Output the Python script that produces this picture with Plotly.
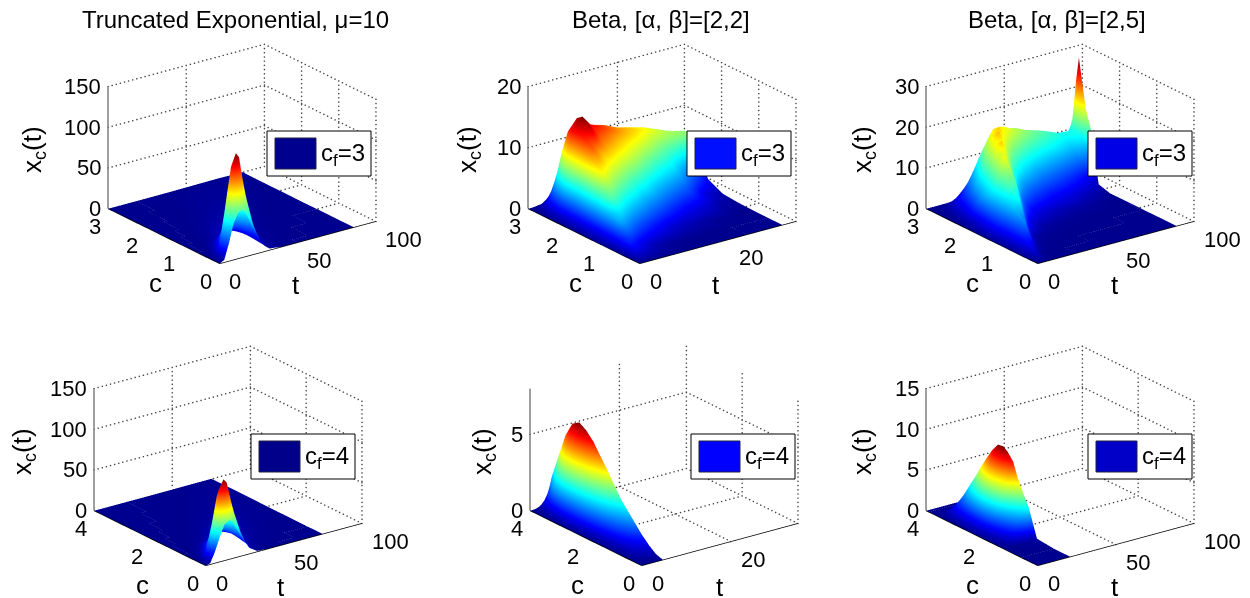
import numpy as np
import plotly.graph_objects as go

TITLES = ["Truncated Exponential, μ=10", "Beta, [α, β]=[2,2]", "Beta, [α, β]=[2,5]"]
LEGENDS = ["c<sub>f</sub>=3", "c<sub>f</sub>=3", "c<sub>f</sub>=3", "c<sub>f</sub>=4", "c<sub>f</sub>=4", "c<sub>f</sub>=4"]
PATCH_COLORS = ["#00008f", "#0010ff", "#0000e6", "#00008b", "#0000ff", "#0000c8"]

# ---- panel 1
C1 = [0, .04, .08, .12, .15, .2, .3, .4, .6, .8, 1, 1.3, 1.6, 2, 2.5, 3]
T1 = [0, 3, 6, 9, 12, 14, 16, 18, 20, 24, 28, 32, 40, 50, 60, 70, 86]
Z1 = [
 [0,3,22,45,56,58,56,48,38,22,9,2,.2,0,0,0,0],
 [0,4,25,50,68,74,70,58,46,26,10,2.2,.3,0,0,0,0],
 [0,3,28,60,87,94,89,71,55,30,10,2,.3,0,0,0,0],
 [0,2.3,32,71,106,115,109,86,67,35,12,2.3,.3,0,0,0,0],
 [0,2.5,35,78,115,125,119,94,72,38,12,2.5,.4,0,0,0,0],
 [0,2,28,70,108,118,114,95,74,40,14,3,.5,.05,0,0,0],
 [0,.8,10,35,62,73,75,66,54,31,12,3.5,.6,.1,0,0,0],
 [0,.2,3,13,30,40,44,45,39,25,11,4,.8,.1,0,0,0],
 [0,0,.3,2,7,11,15,19,20,17,10,5,1.2,.2,0,0,0],
 [0,0,.05,.4,1.5,2.5,4,6,8,10,8,5,1.8,.3,.05,0,0],
 [0,0,0,.1,.4,.7,1.2,2,3,5.5,6,5,2.3,.5,.1,0,0],
 [0,0,0,0,.1,.2,.3,.6,1,2,3.2,4,3,1,.2,.03,0],
 [0,0,0,0,0,.05,.1,.2,.35,.7,1.2,2,3,1.6,.5,.1,0],
 [0,0,0,0,0,0,.02,.04,.08,.2,.4,.7,1.5,2,1.2,.4,.03],
 [0,0,0,0,0,0,0,0,.01,.03,.08,.2,.5,1,1.2,.8,.1],
 [0,0,0,0,0,0,0,0,0,0,.01,.03,.1,.3,.5,.7,.3],
]

# ---- panel 2 (rows are t)
C2 = [0, .4, .8, 1.2, 1.6, 2, 2.3, 2.5, 2.65, 2.8, 2.9, 3]
T2 = [0, 1, 2, 3, 4, 5, 6, 8, 10, 12, 14, 17, 20, 24, 28, 32]
Z2_BY_T = [
 [0,0,0,0,0,0,0,0,0,0,0,0],
 [0,2.2,1.84,1.44,1.2,1,.9,.7,.4,.2,.1,0],
 [0,2,4.4,4.1,3.7,3.2,3,2.2,1.4,.7,.3,.1],
 [0,1.65,4.5,6.6,6.4,6,6,4.8,3.4,1.8,.8,.2],
 [0,1.28,4,7.1,8.8,8.8,8.5,8,6,3.5,1.8,.6],
 [0,1,3.6,6.5,9.6,11,11,11,9.4,6,3.2,1.2],
 [0,.8,3.2,6,9,12,12.9,13.5,12.5,9,5.5,2],
 [0,.4,2.56,5.2,8,10.6,14.2,15,14.3,11.5,8,3.5],
 [0,.2,2,4.56,7.2,10,12,13.2,13,11.5,8.5,4],
 [0,.08,1.5,3.84,6.4,9.2,11.3,12.6,12.4,11.5,8.8,4.3],
 [0,.05,1.05,3.36,5.9,8.6,10.4,11.8,12,11.2,8.8,4.4],
 [0,.02,.64,2.5,4.8,7.6,9.4,10.6,11,10.5,8.6,4.4],
 [0,.01,.4,1.8,4,6.4,8.5,9.7,10.2,10,8.5,4.3],
 [0,0,.16,1.2,3,5.4,7.1,8.4,9.2,9.2,8,4.2],
 [0,0,.06,.4,1.2,3.4,6,7.6,8.2,8,7.4,4],
 [0,0,.02,.1,.3,1.5,5,7.6,7.5,6.8,6.3,3.5],
]

# ---- panel 3 (rows are t)
C3 = [0, .3, .6, .9, 1.2, 1.5, 1.8, 2.1, 2.3, 2.45, 2.55, 2.63, 2.7, 2.8, 2.9, 3]
T3 = [0, 3, 6, 10, 15, 20, 25, 30, 35, 40, 50, 60, 70, 80, 87.5, 89]
Z3_BY_T = [
 [0,0,0,0,0,0,0,0,0,0,0,0,0,0,0,0],
 [0,3.2,4.5,4.2,5,3.5,1.2,.7,.4,.25,.2,.15,.1,.05,.02,0],
 [0,1.2,7.5,9,9.5,9.5,7,3,1.6,1.1,.8,.6,.45,.25,.08,0],
 [0,.1,1.8,11,13.5,13.8,10.5,7.3,4.8,3.4,2.7,2.1,1.5,.9,.3,0],
 [0,.02,.3,2,13,18.5,15.5,12,8.8,6.6,5.4,4.4,3.5,2.2,.9,0],
 [0,.01,.1,.7,5,13,20,17,13.5,10.5,8.8,7.4,6,4,1.8,0],
 [0,0,.05,.3,2,7,15,20.5,18.5,15.5,13.5,11.6,9.6,6.5,3,.2],
 [0,0,.02,.15,1,4,10,17,20,19,17,15,13,9.5,5,1],
 [0,0,.01,.1,.6,2.7,7.3,13.5,17.5,19,18.5,17,15.5,12.5,8,3],
 [0,0,0,.05,.4,2,5.8,11,15,17.5,18,17.5,16.8,14.5,11,6],
 [0,0,0,.02,.2,1.1,4,8,11.5,14,15.5,16,16,15,13.5,10],
 [0,0,0,.01,.1,.7,3,6.5,9.5,12,13,14,14.2,14,13.2,11],
 [0,0,0,0,.05,.4,1.8,5,8,10.5,11.5,12.3,12.8,12.8,12,11],
 [0,0,0,0,.02,.1,.8,3.2,6.5,8.8,10,10.8,11.2,11.2,10.8,10],
 [0,0,0,0,0,.02,.2,1.5,7,10,11,11.5,11.5,11,10,9.5],
 [0,0,0,0,0,0,0,.8,13,18,24.3,29.5,24.3,14,10,9],
]

# ---- panel 4
C4 = [0, .05, .1, .15, .2, .27, .4, .55, .8, 1.1, 1.4, 1.8, 2.2, 2.7, 3.3, 4]
T4 = [0, 3, 6, 9, 12, 15, 17, 19, 21, 25, 29, 33, 40, 50, 60, 75]
Z4 = [
 [0,1.5,14,30,44,48,46,38,30,16,6,1,.1,0,0,0],
 [0,1.5,16,33,50,58,55,44,34,18,6,1.1,.2,0,0,0],
 [0,1.4,18,40,63,72,68,54,42,22,7,1.4,.2,0,0,0],
 [0,1.8,22,48,77,88,84,66,51,26,9,1.8,.3,0,0,0],
 [0,1.9,24,52,84,95,90,71,55,29,10,1.9,.3,0,0,0],
 [0,1.5,18,45,75,87,84,70,55,30,11,2.4,.4,.03,0,0],
 [0,.5,6,20,42,55,58,52,43,27,11,3.5,.6,.1,0,0],
 [0,.1,1.5,6,17,27,32,35,33,24,12,5,1,.2,0,0],
 [0,0,.2,1,3.5,7,10,13,16,18,13,7,2,.4,.05,0],
 [0,0,.02,.1,.5,1,1.8,3,4.5,7.5,8,6.5,2.8,.7,.1,0],
 [0,0,0,.02,.1,.2,.4,.7,1.1,2.3,3.6,4.6,4,1.5,.4,.02],
 [0,0,0,0,.02,.05,.1,.15,.25,.6,1,1.6,2.5,1.8,.7,.08],
 [0,0,0,0,0,.02,.03,.05,.08,.2,.35,.6,1,1.5,1,.2],
 [0,0,0,0,0,0,0,.01,.02,.05,.1,.2,.4,.8,1,.4],
 [0,0,0,0,0,0,0,0,0,.01,.03,.06,.15,.35,.6,.5],
 [0,0,0,0,0,0,0,0,0,0,0,.01,.05,.1,.25,.3],
]

# ---- panel 5
C5 = [0, .25, .5, .75, 1, 1.5, 2, 2.5, 2.75, 3, 3.25, 3.5, 3.75, 4]
T5 = [0, .5, 1, 1.5, 2, 2.5, 3, 3.5, 4, 4.5, 4.8]
Z5 = [
 [0,0,0,0,0,0,0,0,0,0,0],
 [0,.03,.06,.08,.1,.11,.12,.13,.14,.15,.15],
 [0,.05,.12,.2,.27,.33,.38,.42,.45,.48,.5],
 [0,.05,.15,.27,.4,.52,.62,.72,.82,.9,.95],
 [0,.05,.17,.35,.55,.75,.95,1.12,1.28,1.42,1.5],
 [0,.08,.3,.6,.92,1.25,1.56,1.87,2.16,2.42,2.6],
 [0,.12,.45,.95,1.45,1.97,2.46,2.95,3.4,3.8,4.1],
 [0,.15,.6,1.25,1.92,2.64,3.3,3.96,4.56,5.1,5.5],
 [0,.15,.6,1.3,2.1,2.88,3.6,4.32,4.98,5.58,6],
 [0,.14,.55,1.3,2.1,3,3.78,4.54,5.23,5.86,6.3],
 [0,.1,.4,1,1.85,2.7,3.5,4.25,5,5.6,6],
 [0,.05,.2,.6,1.2,1.9,2.6,3.3,4,4.6,5],
 [0,.02,.08,.25,.5,.9,1.3,1.8,2.4,2.9,3.4],
 [0,.01,.02,.05,.1,.2,.35,.55,.9,1.4,1.8],
]

# ---- panel 6
C6 = [0, .6, 1.2, 1.5, 1.7, 1.9, 2.05, 2.25, 2.4, 2.6, 2.8, 3, 3.2, 3.4, 3.7, 3.9, 4]
T6 = [0, 3, 6, 9, 12, 15, 18, 21]
Z6 = [
 [0,0,0,0,0,0,0,0],
 [0,0,0,0,0,0,0,0],
 [0,.01,.03,.06,.09,.13,.17,.2],
 [0,.18,.54,1.08,1.7,2.34,3.0,3.6],
 [0,.25,.75,1.5,2.35,3.25,4.2,5],
 [0,.33,1,2,3.1,4.3,5.5,6.6],
 [0,.41,1.23,2.46,3.85,5.33,6.9,8.2],
 [0,.45,1.37,2.73,4.28,5.9,7.64,9.1],
 [0,.48,1.43,2.85,4.47,6.18,8,9.5],
 [0,.47,1.41,2.82,4.42,6.1,7.9,9.4],
 [0,.42,1.26,2.52,3.95,5.46,7.06,8.4],
 [0,.36,1.07,2.13,3.34,4.6,6,7.1],
 [0,.29,.86,1.71,2.68,3.7,4.8,5.7],
 [0,.2,.6,1.23,1.93,2.67,3.44,4.1],
 [0,.03,.09,.18,.28,.39,.5,.6],
 [0,0,0,0,0,0,0,0],
 [0,0,0,0,0,0,0,0],
]

CS = [C1, C2, C3, C4, C5, C6]
TS = [T1, T2, T3, T4, T5, T6]
ZS = [Z1, np.array(Z2_BY_T).T.tolist(), np.array(Z3_BY_T).T.tolist(), Z4, Z5, Z6]

T_TICKS = [[0,50,100],[0,20],[0,50,100],[0,50,100],[0,20],[0,50,100]]
C_TICKS = [[0,1,2,3],[0,1,2,3],[0,1,2,3],[0,2,4],[0,2,4],[0,2,4]]
Z_TICKS = [[0,50,100,150],[0,10,20],[0,10,20,30],[0,50,100,150],[0,5],[0,5,10,15]]
T_MAX = [100, 35, 100, 100, 35, 100]
C_MAX = [3, 3, 3, 4, 4, 4]
Z_MAX = [150, 20, 30, 150, 8, 15]
COLOR_MAX = [125, 15, 29.5, 95, 6.3, 9.5]

JET = [[0, "rgb(0,0,143)"], [.11, "rgb(0,0,255)"], [.365, "rgb(0,255,255)"],
       [.625, "rgb(255,255,0)"], [.875, "rgb(255,0,0)"], [1, "rgb(128,0,0)"]]

W, H = 1250, 598
CENTERS = [(241.5,154),(662,154),(1060,154),(228,456),(664,456),(1060,456)]
DW, DH = 380, 284
EYE = (-.554*1.36, -.748*1.36, .365*1.36)
ASPECT = dict(x=1.37, y=1.32, z=.924)
FONT = "Liberation Sans, Arial, sans-serif"

fig = go.Figure()
layout = {}
shapes, annos = [], []

for k in range(6):
    name = "scene" if k == 0 else f"scene{k+1}"
    tmax, cmax, zmax = T_MAX[k], C_MAX[k], Z_MAX[k]
    tend = TS[k][-1]
    fig.add_trace(go.Surface(x=TS[k], y=CS[k], z=ZS[k], colorscale=JET, cmin=0, cmax=COLOR_MAX[k],
                             showscale=False, hoverinfo="skip", scene=name,
                             lighting=dict(ambient=1, diffuse=0, specular=0, fresnel=0, roughness=1)))
    dx, dy, dz = [], [], []
    def seg(a, b):
        ddt, ddc, ddz = (b[0]-a[0])/tmax, (b[1]-a[1])/cmax, (b[2]-a[2])/zmax
        length = np.hypot(154*ddt - 115*ddc, 43*ddt + 55*ddc + 121*ddz)
        n = max(int(length / 4), 2)
        for s in np.linspace(0, 1, n):
            p = (a[0]+(b[0]-a[0])*s, a[1]+(b[1]-a[1])*s, a[2]+(b[2]-a[2])*s)
            if p[2] == 0 and p[0] <= tend:
                continue
            dx.append(p[0]); dy.append(p[1]); dz.append(p[2])
    for t in T_TICKS[k]:
        if 0 < t:
            seg((t, cmax, 0), (t, cmax, zmax)); seg((t, 0, 0), (t, cmax, 0))
    for c in C_TICKS[k]:
        if 0 < c:
            seg((tmax, c, 0), (tmax, c, zmax)); seg((0, c, 0), (tmax, c, 0))
    seg((tmax, 0, 0), (tmax, 0, zmax))
    for z in Z_TICKS[k]:
        seg((0, cmax, z), (tmax, cmax, z)); seg((tmax, cmax, z), (tmax, 0, z))
    fig.add_trace(go.Scatter3d(x=dx, y=dy, z=dz, mode="markers", scene=name, hoverinfo="skip", showlegend=False,
                               marker=dict(color="#444444", size=0.9, line=dict(width=0))))
    fig.add_trace(go.Scatter3d(x=[0, 0, None, 0, 0, None, 0, tmax], y=[cmax, cmax, None, cmax, 0, None, 0, 0],
                               z=[0, zmax, None, 0, 0, None, 0, 0], mode="lines", scene=name, hoverinfo="skip",
                               showlegend=False, line=dict(color="black", width=1.5)))
    cx, cy = CENTERS[k]
    def axis(vals, rng):
        return dict(range=rng, tickmode="array", tickvals=vals, showticklabels=False, title=dict(text=""),
                    showgrid=False, zeroline=False, showline=False, showbackground=False, showspikes=False, ticks="")
    tick_font = dict(family=FONT, size=22, color="black")
    scene_annos = []
    for z in Z_TICKS[k]:
        scene_annos.append(dict(x=0, y=cmax, z=z, text=str(z), showarrow=False, xanchor="right", yanchor="middle",
                                xshift=-5, yshift=0, font=tick_font))
    for c in C_TICKS[k]:
        scene_annos.append(dict(x=0, y=c, z=0, text=str(c), showarrow=False, xanchor="center", yanchor="middle",
                                xshift=-13, yshift=-18, font=tick_font))
    for t in T_TICKS[k]:
        scene_annos.append(dict(x=t, y=0, z=0, text=str(t), showarrow=False, xanchor="left", yanchor="middle",
                                xshift=8, yshift=-18, font=tick_font))
    layout[name] = dict(domain=dict(x=[(cx-DW/2)/W, (cx+DW/2)/W], y=[1-(cy+DH/2)/H, 1-(cy-DH/2)/H]),
                        xaxis=axis(T_TICKS[k], [0, tmax]), yaxis=axis(C_TICKS[k], [0, cmax]), zaxis=axis(Z_TICKS[k], [0, zmax]),
                        aspectmode="manual", aspectratio=ASPECT, annotations=scene_annos,
                        camera=dict(eye=dict(x=EYE[0], y=EYE[1], z=EYE[2]), up=dict(x=0, y=0, z=1),
                                    center=dict(x=0, y=0, z=0), projection=dict(type="orthographic")))

def px_x(x): return x / W
def px_y(y): return 1 - y / H
def text(x, y, s, size, rot=0):
    annos.append(dict(xref="paper", yref="paper", x=px_x(x), y=px_y(y), text=s, showarrow=False, textangle=rot,
                      font=dict(family=FONT, size=size, color="black"), xanchor="center", yanchor="middle"))

for x, s in zip([235, 661, 1057], TITLES):
    text(x, 20, s, 24)
BOXES = [(267,131),(687,131),(1088,131),(251,434),(691,434),(1088,434)]
for k, (bx, by) in enumerate(BOXES):
    shapes.append(dict(type="rect", xref="paper", yref="paper", x0=px_x(bx), x1=px_x(bx+104), y0=px_y(by), y1=px_y(by+45),
                       fillcolor="white", line=dict(color="black", width=1), layer="above"))
    shapes.append(dict(type="rect", xref="paper", yref="paper", x0=px_x(bx+8), x1=px_x(bx+49), y0=px_y(by+7), y1=px_y(by+38),
                       fillcolor=PATCH_COLORS[k], line=dict(color="#222244", width=1), layer="above"))
    text(bx+76, by+23, LEGENDS[k], 24)
C_POS = [(155,283),(575,283),(972,283),(142,585),(577,585),(972,585)]
T_POS = [(296,285),(716,285),(1115,285),(281,587),(720,587),(1115,587)]
X_POS = [(33,150),(468,150),(863,150),(23,452),(483,452),(863,452)]
for k in range(6):
    text(*C_POS[k], "c", 26)
    text(*T_POS[k], "t", 26)
    text(*X_POS[k], "x<sub>c</sub>(t)", 26, -90)

fig.update_layout(width=W, height=H, margin=dict(l=0, r=0, t=0, b=0), paper_bgcolor="white",
                  showlegend=False, shapes=shapes, annotations=annos, **layout)
fig.write_html("out.html", config=dict(displayModeBar=False), post_script="document.body.style.margin='0';")
